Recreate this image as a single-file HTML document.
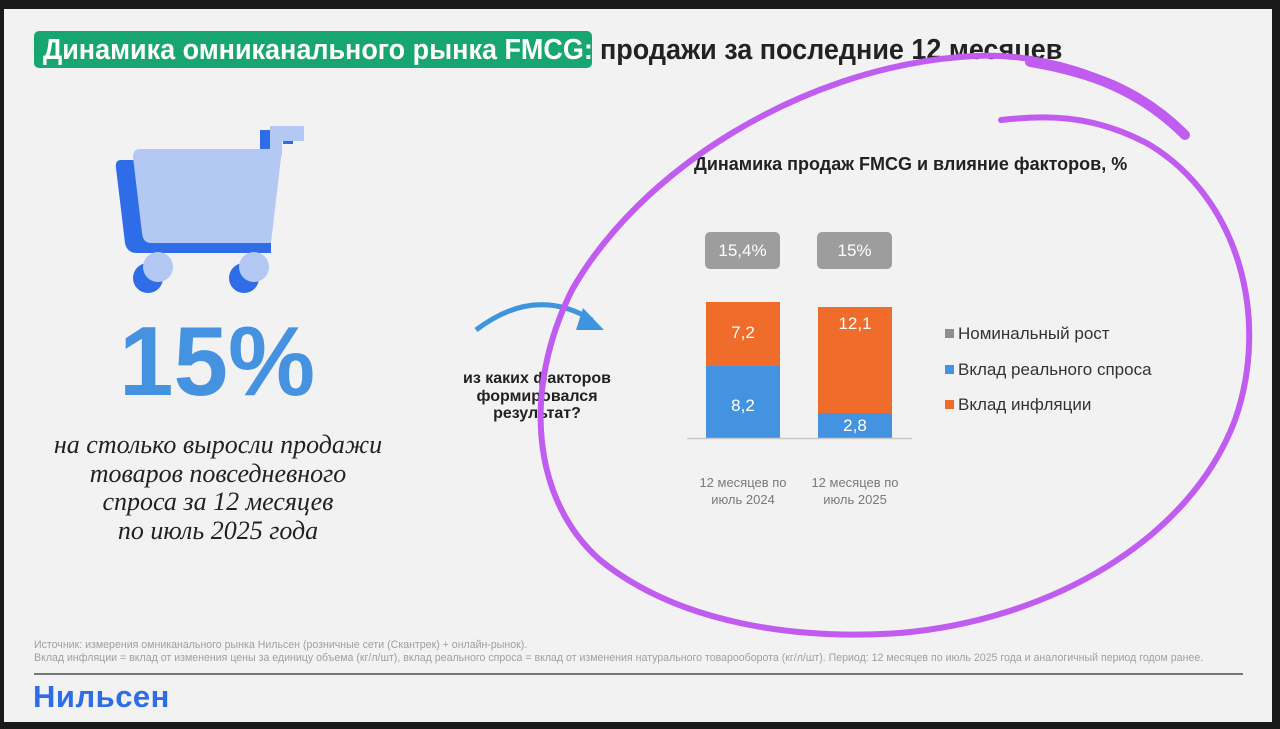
<!DOCTYPE html>
<html><head><meta charset="utf-8"><style>
body{margin:0;width:1280px;height:729px;background:#1a1a1a;overflow:hidden;position:relative;font-family:"Liberation Sans",sans-serif}
.slide{position:absolute;left:4px;top:9px;width:1268px;height:713px;background:#f2f2f2}
.a{position:absolute;white-space:nowrap}
</style></head><body>
<div class="slide"></div>
<div class="a" style="left:34px;top:31px;width:558px;height:37px;background:#17a571;border-radius:5px"></div>
<div class="a" style="left:43px;top:31px;font-size:29px;font-weight:bold;color:#fff;line-height:38px;transform:scaleX(0.93);transform-origin:0 0">Динамика омниканального рынка FMCG:</div>
<div class="a" style="left:600px;top:31px;font-size:29px;font-weight:bold;color:#222;line-height:38px;transform:scaleX(0.93);transform-origin:0 0">продажи за последние 12 месяцев</div>

<svg class="a" style="left:0;top:0" width="1280" height="729">
 <g>
  <path d="M133,160 L121,160 Q115,160 116,168 L125,243 Q127,253 137,253 L271,253 L271,160 Z" fill="#2f6de8"/>
  <rect x="260" y="130" width="10" height="22" fill="#2f6de8"/>
  <rect x="283" y="139" width="10" height="5" fill="#2f6de8"/>
  <path d="M140,149 L282,149 L271,243 L151,243 Q143,243 142,233 L133,157 Q133,149 140,149 Z" fill="#b3c8f3"/>
  <rect x="270" y="126" width="34" height="15" fill="#b3c8f3"/>
  <rect x="270" y="126" width="12" height="30" fill="#b3c8f3"/>
  <circle cx="148" cy="278" r="15" fill="#2f6de8"/>
  <circle cx="244" cy="278" r="15" fill="#2f6de8"/>
  <circle cx="158" cy="267" r="15" fill="#b3c8f3"/>
  <circle cx="254" cy="267" r="15" fill="#b3c8f3"/>
 </g>
 <path d="M476,330 Q535,285 592,320" stroke="#3f95dd" stroke-width="5" fill="none"/>
 <path d="M583,308 L604,330 L576,330 Z" fill="#3f95dd"/>
 <rect x="705" y="232" width="75" height="37" rx="5" fill="#9d9d9d"/>
 <rect x="817" y="232" width="75" height="37" rx="5" fill="#9d9d9d"/>
 <rect x="706" y="302" width="74" height="64" fill="#ef6c2a"/>
 <rect x="706" y="366" width="74" height="72" fill="#4393e0"/>
 <rect x="818" y="307" width="74" height="106" fill="#ef6c2a"/>
 <rect x="818" y="413" width="74" height="25" fill="#4393e0"/>
 <line x1="687" y1="438.5" x2="912" y2="438.5" stroke="#c8c8c8" stroke-width="1.5"/>
 <rect x="945" y="329" width="9" height="9" fill="#8e8e8e"/>
 <rect x="945" y="365" width="9" height="9" fill="#4393e0"/>
 <rect x="945" y="400" width="9" height="9" fill="#ef6c2a"/>
 <line x1="34" y1="674" x2="1243" y2="674" stroke="#777" stroke-width="2"/>
</svg>

<div class="a" style="left:119px;top:306px;font-size:98px;font-weight:bold;color:#4592e0;line-height:110px">15%</div>
<div class="a" style="left:18px;top:431px;width:400px;text-align:center;font-family:'Liberation Serif',serif;font-style:italic;font-size:26px;line-height:28.5px;color:#222;white-space:normal">на столько выросли продажи<br>товаров повседневного<br>спроса за 12 месяцев<br>по июль 2025 года</div>
<div class="a" style="left:437px;top:370px;width:200px;text-align:center;font-size:16px;font-weight:bold;color:#222;line-height:17.5px">из каких факторов<br>формировался<br>результат?</div>

<div class="a" style="left:694px;top:154px;font-size:18px;font-weight:bold;color:#222">Динамика продаж FMCG и влияние факторов, %</div>
<div class="a" style="left:705px;top:241px;width:75px;text-align:center;font-size:17px;color:#fff">15,4%</div>
<div class="a" style="left:817px;top:241px;width:75px;text-align:center;font-size:17px;color:#fff">15%</div>
<div class="a" style="left:706px;top:323px;width:74px;text-align:center;font-size:17px;color:#fff">7,2</div>
<div class="a" style="left:706px;top:396px;width:74px;text-align:center;font-size:17px;color:#fff">8,2</div>
<div class="a" style="left:818px;top:314px;width:74px;text-align:center;font-size:17px;color:#fff">12,1</div>
<div class="a" style="left:818px;top:416px;width:74px;text-align:center;font-size:17px;color:#fff">2,8</div>
<div class="a" style="left:958px;top:324px;font-size:17px;color:#333">Номинальный рост</div>
<div class="a" style="left:958px;top:360px;font-size:17px;color:#333">Вклад реального спроса</div>
<div class="a" style="left:958px;top:395px;font-size:17px;color:#333">Вклад инфляции</div>
<div class="a" style="left:683px;top:474px;width:120px;text-align:center;font-size:13px;color:#7a7a7a;line-height:17px">12 месяцев по<br>июль 2024</div>
<div class="a" style="left:795px;top:474px;width:120px;text-align:center;font-size:13px;color:#7a7a7a;line-height:17px">12 месяцев по<br>июль 2025</div>

<div class="a" style="left:34px;top:639px;font-size:10.6px;color:#a0a0a0;line-height:13px">Источник: измерения омниканального рынка Нильсен (розничные сети (Скантрек) + онлайн-рынок).<br>Вклад инфляции = вклад от изменения цены за единицу объема (кг/л/шт), вклад реального спроса = вклад от изменения натурального товарооборота (кг/л/шт). Период: 12 месяцев по июль 2025 года и аналогичный период годом ранее.</div>
<div class="a" style="left:33px;top:679px;font-size:31px;font-weight:bold;color:#2f6de8;letter-spacing:0.5px">Нильсен</div>

<svg class="a" style="left:0;top:0" width="1280" height="729">
 <path d="M1185,135 C1120,70 1030,50 960,57 C800,70 640,170 572,290 C522,390 532,500 600,560 C680,625 800,640 900,633 C1050,620 1190,540 1235,420 C1270,320 1240,200 1150,145 C1090,112 1040,116 1001,120" stroke="#c05cf0" stroke-width="6" fill="none" stroke-linecap="round"/>
 <path d="M1185,135 C1140,90 1090,72 1030,62" stroke="#c05cf0" stroke-width="10" fill="none" stroke-linecap="round"/>
</svg>
</body></html>
